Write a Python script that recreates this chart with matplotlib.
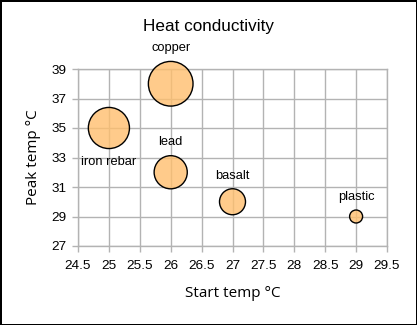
import matplotlib
matplotlib.use("Agg")
import matplotlib.pyplot as plt
import numpy as np

# data
materials = ["copper", "iron rebar", "lead", "basalt", "plastic"]
start_temp = [26, 25, 26, 27, 29]
peak_temp = [38, 35, 32, 30, 29]
bubble_size = [11.8, 10.0, 6.5, 4.0, 1.0]   # relative bubble area
label_below = [False, True, False, False, False]

FACE = "#ffbf6e"
GRID = "#b3b3b3"
TXT = "#000000"

plt.rcParams["font.family"] = ["Liberation Sans", "DejaVu Sans"]

fig = plt.figure(figsize=(4.17, 3.25), dpi=100)
fig.patch.set_edgecolor("black")
fig.patch.set_linewidth(2)
ax = fig.add_axes([78 / 417, 1 - 246 / 325, (387 - 78) / 417, (246 - 69) / 325])

# bubble area scale: smallest bubble ~13 px across
unit = (13 * 0.72) ** 2
sizes = np.array(bubble_size) * unit
ax.scatter(start_temp, peak_temp, s=sizes, color=FACE, alpha=0.8,
           edgecolors="none", zorder=3, clip_on=False)
ax.scatter(start_temp, peak_temp, s=sizes, facecolors="none",
           edgecolors="black", linewidths=1.0, zorder=4, clip_on=False)

for name, x, y, s, below in zip(materials, start_temp, peak_temp, sizes, label_below):
    r = np.sqrt(s) / 2
    off = -(r + 10) if below else (r + 9.5)
    ax.annotate(name, (x, y), xytext=(0, off), textcoords="offset points",
                ha="center", va="center", fontsize=9.3, color=TXT, zorder=5,
                annotation_clip=False)

ax.set_xlim(24.5, 29.5)
ax.set_ylim(27, 39)
ax.set_xticks(np.arange(24.5, 29.51, 0.5))
ax.set_xticklabels([f"{v:g}" for v in np.arange(24.5, 29.51, 0.5)])
ax.set_yticks(np.arange(27, 39.1, 2))

ax.grid(True, color=GRID, linewidth=1.0, zorder=0)
ax.set_axisbelow(True)
for sp in ax.spines.values():
    sp.set_color(GRID)
    sp.set_linewidth(1.0)
ax.tick_params(axis="both", colors=GRID, labelcolor=TXT, labelsize=9.7,
               length=4, width=1.0)
ax.tick_params(axis="x", pad=6)
ax.tick_params(axis="y", pad=4)

fig.text(0.5, 1 - 26 / 325, "Heat conductivity", fontsize=12.3, color=TXT,
         ha="center", va="center")
ax.set_xlabel("Start temp °C", fontsize=11, family="Open Sans", labelpad=10)
ax.set_ylabel("Peak temp °C", fontsize=11, family="Open Sans", labelpad=8)

fig.savefig("out.png", dpi=100, edgecolor=fig.get_edgecolor())
